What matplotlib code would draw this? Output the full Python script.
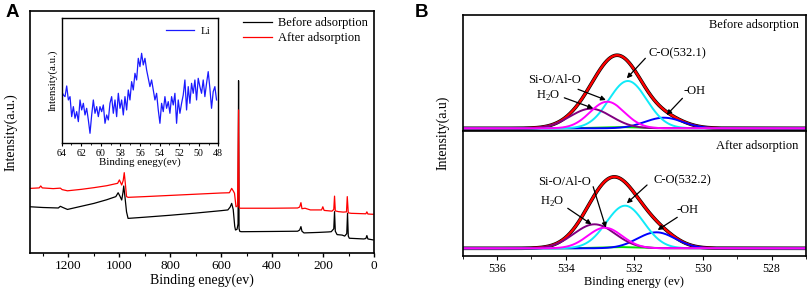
import numpy as np
import matplotlib
matplotlib.use("Agg")
import matplotlib.pyplot as plt
from matplotlib.ticker import MultipleLocator

plt.rcParams['font.family'] = ['Liberation Serif', 'DejaVu Serif']
plt.rcParams['mathtext.fontset'] = 'custom'
plt.rcParams['mathtext.rm'] = 'Liberation Serif'

# ---------------- Panel A: survey spectra (eV, intensity) ----------------
before_ev = [1350, 1300, 1240, 1232, 1222, 1204, 1150, 1100, 1050, 1014, 1005, 998, 991, 986, 983,
             979, 972, 966, 900, 800, 700, 600, 574, 565, 559, 553, 547, 544, 538, 534, 532,
             530, 527, 520, 400, 300, 292, 287, 283, 275, 220, 180, 168, 158, 155, 152, 145,
             125, 115, 107, 104, 101, 97, 40, 32, 28, 24, 3]
before_int = [19.1, 18.8, 18.6, 19.3, 18.8, 18.0, 19.3, 20.5, 22.0, 23.3, 24.9, 23.5, 21.9, 25.0, 27.7,
              24.0, 17.0, 14.3, 14.8, 15.6, 16.5, 17.5, 17.8, 19.0, 20.5, 18.0, 11.0, 9.5, 9.8, 12.0, 71.2,
              10.0, 8.9, 8.8, 8.9, 9.0, 9.5, 10.9, 9.0, 8.3, 8.5, 8.7, 8.8, 10.0, 17.1, 9.0, 7.6,
              7.4, 7.0, 8.0, 16.4, 7.0, 6.1, 5.8, 6.0, 7.2, 5.8, 5.4]

after_ev = [1350, 1315, 1309, 1303, 1260, 1232, 1225, 1204, 1150, 1100, 1050, 1007, 1000, 991, 985,
            981, 977, 972, 966, 900, 800, 700, 600, 568, 559, 552, 548, 542, 536, 532, 530,
            527, 400, 300, 292, 287, 283, 271, 250, 206, 201, 196, 165, 158, 155, 152, 140,
            121, 108, 105, 101, 90, 32, 28, 24, 3]
after_int = [26.7, 26.9, 27.7, 26.9, 26.6, 26.8, 26.2, 25.7, 26.3, 27.0, 27.8, 28.8, 30.2, 28.1, 30.0,
             33.2, 29.0, 23.3, 23.0, 23.3, 23.8, 24.3, 24.8, 24.9, 26.7, 25.5, 24.7, 19.1, 19.5, 59.1, 19.0,
             18.5, 18.5, 18.6, 19.0, 20.8, 18.3, 18.5, 17.8, 17.8, 19.1, 17.6, 17.3, 18.0, 23.5, 17.4, 17.1,
             16.9, 17.0, 23.3, 16.6, 16.4, 16.2, 17.0, 16.1, 16.0]

# ---------------- Inset: Li 1s region ----------------
li_ev_start, li_ev_end = 64.0, 48.18
li_int = [155, 145, 140, 172, 130, 140, 80, 110, 75, 95, 65, 130, 100, 120, 85, 105, 70, 30,
          85, 130, 90, 110, 80, 110, 95, 115, 60, 85, 70, 120, 140, 90, 130, 80, 150, 105,
          130, 85, 140, 100, 160, 130, 185, 160, 210, 190, 255, 230, 270, 235, 255, 220, 195,
          170, 190, 160, 130, 150, 100, 60, 120, 95, 140, 105, 125, 90, 140, 115, 150, 60,
          130, 90, 120, 145, 190, 100, 170, 120, 180, 150, 190, 130, 195, 170, 150, 190, 140,
          180, 215, 165, 105, 155, 170, 130]

# ---------------- Panel B: O 1s fitted components (center eV, height, sigma) ----------------
comp_names = ['H2O', 'Si-O/Al-O', 'C-O', '-OH', 'bg']
comp_colors = ['#800080', '#ff00ff', '#10eaf8', '#0000ff', '#00e000']
before_center = [533.27, 532.79, 532.19, 531.14, 532.3]
before_height = [19.6, 26.6, 47.3, 10.6, 1.2]
before_sigma = [0.60, 0.50, 0.55, 0.55, 0.6]
after_center = [533.16, 532.86, 532.27, 531.36, 532.3]
after_height = [24.0, 20.6, 42.6, 16.0, 1.2]
after_sigma = [0.60, 0.50, 0.55, 0.55, 0.6]

W, H = 809, 295
fig = plt.figure(figsize=(W / 100, H / 100), dpi=100)

def box(l, t, r, b):
    return [l / W, 1 - b / H, (r - l) / W, (b - t) / H]

# ---- Panel A ----
axA = fig.add_axes(box(30.3, 11, 374, 253))
axA.plot(before_ev, before_int, color='black', lw=0.9, label='Before adsorption')
axA.plot(after_ev, after_int, color='red', lw=0.9, label='After adsorption')
axA.set_xlim(1350, 0)
axA.set_ylim(0, 100)
axA.set_yticks([])
axA.xaxis.set_major_locator(MultipleLocator(200))
axA.xaxis.set_minor_locator(MultipleLocator(100))
axA.tick_params(axis='x', which='major', length=3, width=1, labelsize=9.5, pad=2)
axA.tick_params(axis='x', which='minor', length=2, width=0.8)
axA.set_xlabel('Binding enegy(ev)', fontsize=10, labelpad=1)
axA.set_ylabel('Intensity(a.u.)', fontsize=10, labelpad=9)
for s in axA.spines.values():
    s.set_linewidth(1.2)
axA.legend(loc='upper right', frameon=False, fontsize=9, handlelength=2.3,
           borderaxespad=0.1, labelspacing=0.25, handletextpad=0.5)

# ---- Inset ----
axI = fig.add_axes(box(61.7, 18.3, 218.3, 143.3))
li_ev = np.linspace(li_ev_start, li_ev_end, len(li_int))
axI.plot(li_ev, li_int, color='#1a1aff', lw=0.9, label='Li')
axI.set_xlim(64, 48)
axI.set_ylim(0, 375)
axI.set_yticks([])
axI.xaxis.set_major_locator(MultipleLocator(2))
axI.xaxis.set_minor_locator(MultipleLocator(1))
axI.tick_params(axis='x', which='major', length=2.5, labelsize=7.2, pad=1.5)
axI.tick_params(axis='x', which='minor', length=1.5)
axI.set_xlabel('Binding enegy(ev)', fontsize=7.8, labelpad=0)
axI.set_ylabel('Intensity(a.u.)', fontsize=7.8, labelpad=3)
for s in axI.spines.values():
    s.set_linewidth(1.0)
axI.legend(loc='upper right', frameon=False, fontsize=8, handlelength=2.5,
           borderaxespad=0.3, handletextpad=0.6)

# ---- Panel B ----
x = np.linspace(527, 537, 800)

def gauss(c, h, s):
    return h * np.exp(-0.5 * ((x - c) / s) ** 2)

def draw_panel(ax, centers, heights, sigmas):
    comps = [gauss(c, h, s) for c, h, s in zip(centers, heights, sigmas)]
    env = np.sum(comps, axis=0)
    ax.plot(x, env, color='black', lw=2.6)
    ax.plot(x, env, color='red', lw=1.7)
    order = [4, 3, 2, 0, 1]
    for i in order:
        ax.plot(x, comps[i], color=comp_colors[i], lw=1.4)
    ax.set_xlim(537, 527)
    ax.set_yticks([])
    for s in ax.spines.values():
        s.set_linewidth(1.2)

axB1 = fig.add_axes(box(462.7, 15, 806, 131))
draw_panel(axB1, before_center, before_height, before_sigma)
axB1.set_ylim(-2.7, 113.3)
axB1.set_xticks([])
axB2 = fig.add_axes(box(462.7, 131, 806, 256))
draw_panel(axB2, after_center, after_height, after_sigma)
axB2.set_ylim(-7.7, 117.3)
axB2.xaxis.set_major_locator(MultipleLocator(2))
axB2.xaxis.set_minor_locator(MultipleLocator(1))
axB2.tick_params(axis='x', which='major', length=3, labelsize=8.5, pad=2)
axB2.tick_params(axis='x', which='minor', length=2)
axB2.set_xlabel('Binding energy (ev)', fontsize=9, labelpad=1)

axB1.text(527.22, 103.3, 'Before adsorption', ha='right', va='center', fontsize=9)
axB2.text(527.22, 102.6, 'After adsorption', ha='right', va='center', fontsize=9)

ap = dict(arrowstyle='-|>', color='black', lw=0.9, mutation_scale=7, shrinkA=0, shrinkB=0)

def ann(ax, label, text_xy, tail, head):
    ax.text(text_xy[0], text_xy[1], label, ha='center', va='center', fontsize=9)
    ax.annotate('', xy=head, xytext=tail, arrowprops=ap)

ann(axB1, 'Si-O/Al-O', (534.33, 48.3), (533.64, 39.0), (532.83, 28.3))
ann(axB1, 'H$_2$O', (534.50, 32.8), (534.04, 30.5), (533.20, 20.0))
ann(axB1, 'C-O(532.1)', (530.75, 75.0), (531.68, 70.0), (532.22, 50.0))
ann(axB1, '-OH', (530.26, 37.6), (530.60, 30.0), (531.06, 13.3))

ann(axB2, 'Si-O/Al-O', (534.04, 66.6), (533.20, 61.6), (532.83, 20.6))
ann(axB2, 'H$_2$O', (534.38, 46.6), (533.94, 40.0), (533.25, 24.0))
ann(axB2, 'C-O(532.2)', (530.60, 68.3), (531.63, 63.3), (532.22, 45.0))
ann(axB2, '-OH', (530.45, 38.3), (530.75, 31.0), (531.32, 18.3))

fig.text(443 / W, 1 - 133 / H, 'Intensity(a.u)', rotation=90, ha='center', va='center', fontsize=10)

fig.text(6 / W, 1 - 4 / H, 'A', fontsize=13.5, fontweight='bold', family='Liberation Sans', ha='left', va='top')
fig.text(415 / W, 1 - 4 / H, 'B', fontsize=13.5, fontweight='bold', family='Liberation Sans', ha='left', va='top')

fig.savefig('out.png', dpi=100)
